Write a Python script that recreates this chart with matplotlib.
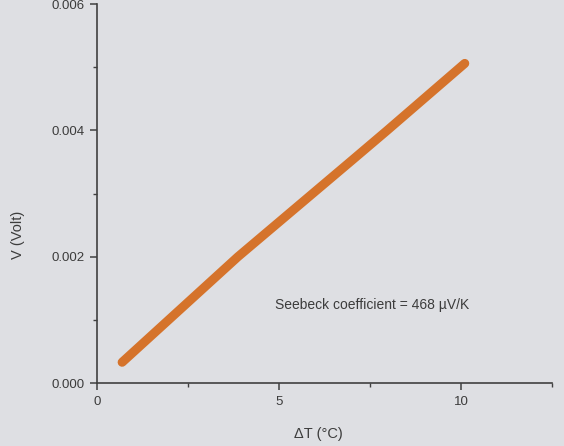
import matplotlib
matplotlib.use("Agg")
import matplotlib.pyplot as plt
from matplotlib.ticker import MultipleLocator

# data
delta_t = [0.69, 3.87, 7.03, 7.97, 10.1]
voltage = [0.00033, 0.0020, 0.00354, 0.0040, 0.00506]
x_ticks = [0, 5, 10]
y_ticks = [0.000, 0.002, 0.004, 0.006]
annotation = "Seebeck coefficient = 468 \u00b5V/K"

plt.rcParams['font.family'] = ['Liberation Sans', 'DejaVu Sans']
bg = '#dedfe3'
txt = '#3c3c3c'

fig = plt.figure(figsize=(5.64, 4.46), dpi=100, facecolor=bg)
ax = fig.add_axes([0.172, 0.141, 0.807, 0.850], facecolor=bg)

ax.plot(delta_t, voltage, color='#d5732b', lw=6.5, solid_capstyle='round')

ax.set_xlim(0, 12.5)
ax.set_ylim(0, 0.006)
ax.set_xticks(x_ticks)
ax.set_yticks(y_ticks)
ax.set_xticklabels([str(v) for v in x_ticks])
ax.set_yticklabels([f"{v:.3f}" for v in y_ticks])
ax.xaxis.set_minor_locator(MultipleLocator(2.5))
ax.yaxis.set_minor_locator(MultipleLocator(0.001))

for s in ['top', 'right']:
    ax.spines[s].set_visible(False)
for s in ['left', 'bottom']:
    ax.spines[s].set_color('#404040')
    ax.spines[s].set_linewidth(1.2)

ax.tick_params(which='major', direction='out', length=5, width=1.1, colors='#404040',
               labelsize=9.5, labelcolor=txt, pad=4)
ax.tick_params(which='minor', direction='out', length=3, width=1.0, colors='#404040')

ax.set_xlabel("\u0394T (\u00b0C)", fontsize=10.5, color=txt)
ax.set_ylabel("V (Volt)", fontsize=10.5, color=txt)
ax.xaxis.set_label_coords(0.486, -0.117)
ax.yaxis.set_label_coords(-0.158, 0.39)

ax.text(4.89, 0.00124, annotation, fontsize=10, color=txt, va='center', ha='left')

fig.savefig("out.png", dpi=100, facecolor=bg)
